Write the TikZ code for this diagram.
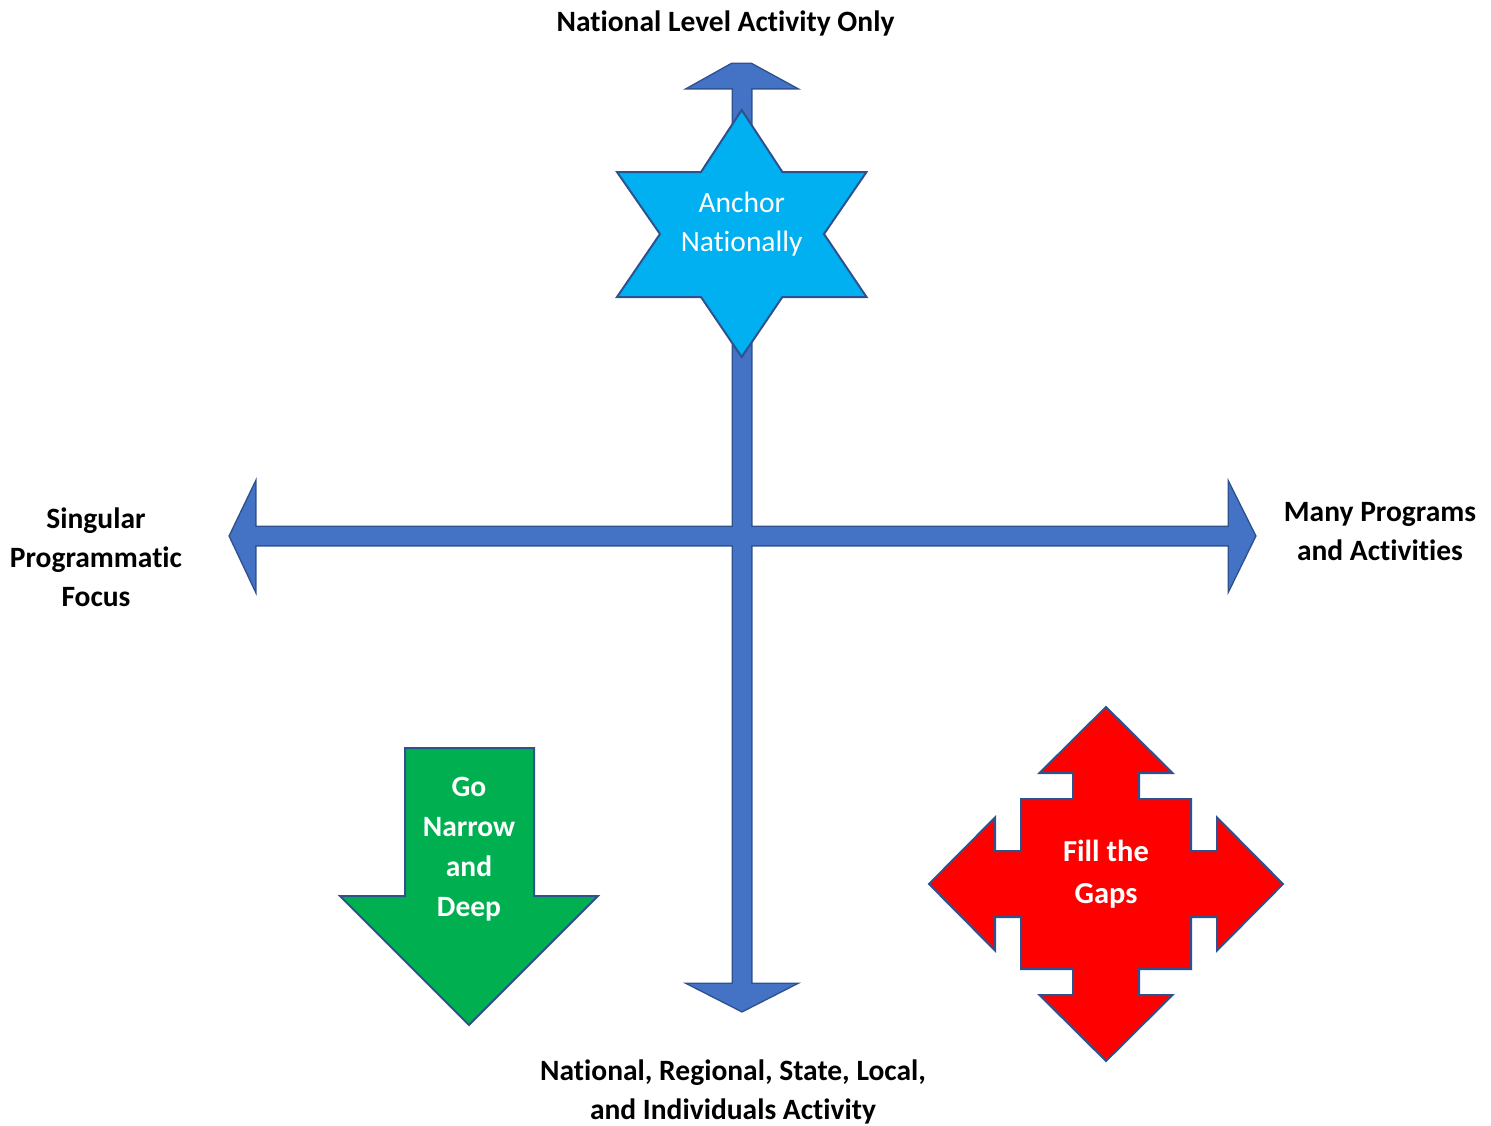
\documentclass[tikz,border=0pt]{standalone}
\usepackage{fontspec}
\setmainfont[Ligatures=NoCommon]{Carlito}
\definecolor{axisblue}{HTML}{4472C4}
\definecolor{edgeblue}{HTML}{2F528F}
\definecolor{starblue}{HTML}{00B0F0}
\definecolor{arrgreen}{HTML}{00B050}
\definecolor{arrred}{HTML}{FF0000}
\begin{document}
\begin{tikzpicture}[x=1pt,y=-1pt,
  lbl/.style={font=\fontsize{29.5}{39}\selectfont\bfseries, align=center, text=black, inner sep=0pt},
  inlbl/.style={font=\fontsize{29.5}{40}\selectfont\bfseries, align=center, text=white, inner sep=0pt},
  shapeedge/.style={draw=edgeblue, line width=2pt, line join=miter}]
\useasboundingbox (0,0) rectangle (1491,1125);

% axes: outline first (double width), then fill -> merged outline
\def\vaxis{(733,88) -- (689,88) -- (732,64) -- (751,64) -- (795,88) -- (751,88) -- (751,984) -- (795,984) -- (742,1011) -- (689,984) -- (733,984) -- cycle}
\def\haxis{(255,527) -- (255,484) -- (230,536) -- (255,589) -- (255,545) -- (1229,545) -- (1229,589) -- (1255,536) -- (1229,484) -- (1229,527) -- cycle}
\draw[draw=edgeblue, line width=3pt, line join=miter] \vaxis;
\draw[draw=edgeblue, line width=3pt, line join=miter] \haxis;
\fill[axisblue] \vaxis;
\fill[axisblue] \haxis;

% star
\draw[shapeedge, fill=starblue] (741.7,110) -- (701,172) -- (617,172) -- (660,234) -- (617,297) -- (701,297) -- (741.7,357) -- (782.4,297) -- (866.5,297) -- (824,234) -- (866.5,172) -- (782.4,172) -- cycle;
\node[font=\fontsize{29.5}{39}\selectfont, align=center, text=white, inner sep=0pt] (anchor) at (741.7,224) {Anchor\\Nationally};

% green arrow
\draw[shapeedge, fill=arrgreen] (405,748) -- (534,748) -- (534,896) -- (598,896) -- (469,1025) -- (340,896) -- (405,896) -- cycle;
\node[inlbl] (narrow) at (469,849) {Go\\Narrow\\and\\Deep};

% red four-way arrow
\begin{scope}[shift={(1106,884)}]
\draw[shapeedge, fill=arrred] (0,-177) -- (66.5,-111) -- (33,-111) -- (33,-85) -- (85,-85) -- (85,-33) -- (111,-33) -- (111,-66.5) -- (177,0) -- (111,66.5) -- (111,33) -- (85,33) -- (85,85) -- (33,85) -- (33,111) -- (66.5,111) -- (0,177) -- (-66.5,111) -- (-33,111) -- (-33,85) -- (-85,85) -- (-85,33) -- (-111,33) -- (-111,66.5) -- (-177,0) -- (-111,-66.5) -- (-111,-33) -- (-85,-33) -- (-85,-85) -- (-33,-85) -- (-33,-111) -- (-66.5,-111) -- cycle;
\end{scope}
\node[inlbl, font=\fontsize{30.5}{42}\selectfont\bfseries] (gaps) at (1106,874) {Fill the\\Gaps};

% axis labels
\node[lbl] (top) at (725.5,23) {National Level Activity Only};
\node[lbl] (left) at (96,557) {Singular\\Programmatic\\Focus};
\node[lbl] (right) at (1380,532) {Many Programs\\and Activities};
\node[lbl] (bottom) at (733,1092) {National, Regional, State, Local,\\and Individuals Activity};
\end{tikzpicture}
\end{document}
